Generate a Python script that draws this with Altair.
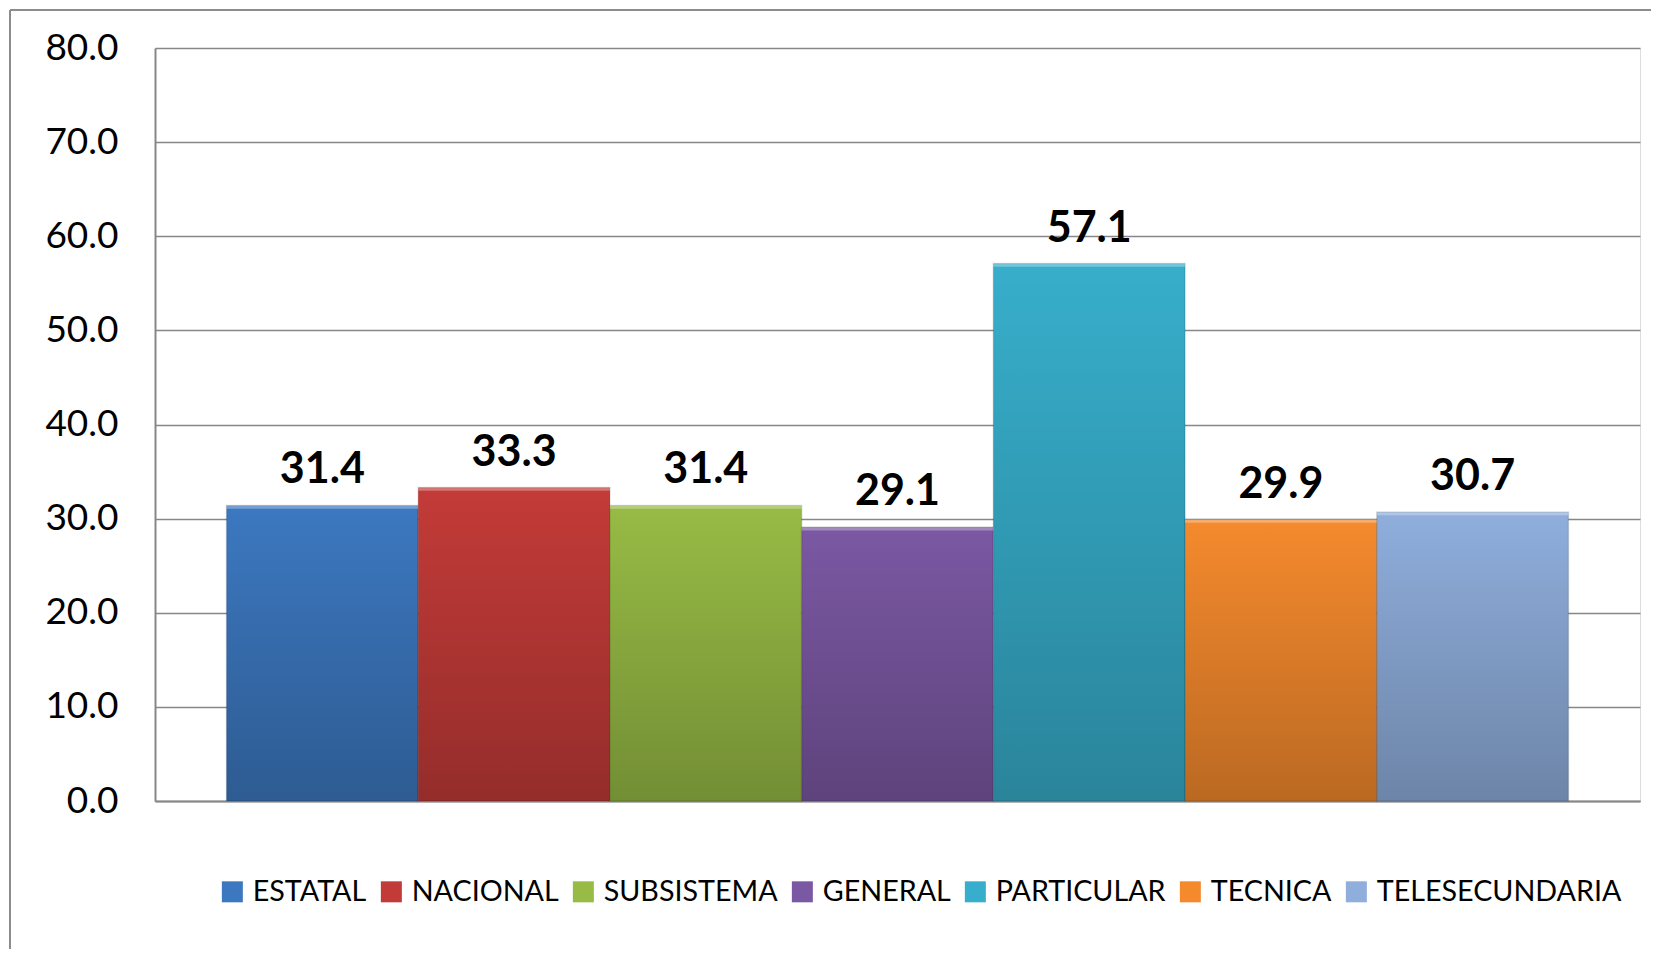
import altair as alt
import pandas as pd

categories = ["ESTATAL", "NACIONAL", "SUBSISTEMA", "GENERAL", "PARTICULAR", "TECNICA", "TELESECUNDARIA"]
values = [31.4, 33.3, 31.4, 29.1, 57.1, 29.9, 30.7]
colors = ["#3C78C0", "#C33B38", "#97BB45", "#7B58A3", "#37AECB", "#F58A2D", "#8FAEDC"]
y_ticks = [0, 10, 20, 30, 40, 50, 60, 70, 80]

df = pd.DataFrame({"Categoria": categories, "Valor": values})

W, H = 1485, 753
FONT = "Lato"

x_enc = alt.X("Categoria:N", sort=categories,
              scale=alt.Scale(paddingInner=0, paddingOuter=0.373),
              axis=alt.Axis(title=None, labels=False, ticks=False, domain=True,
                            domainColor="#878787", domainWidth=2, grid=False))
y_enc = alt.Y("Valor:Q", scale=alt.Scale(domain=[0, 80], nice=False),
              axis=alt.Axis(title=None, values=y_ticks, format=".1f", ticks=False,
                            domain=True, domainColor="#878787", domainWidth=2,
                            grid=True, gridColor="#878787", gridWidth=1.6,
                            labelFont=FONT, labelFontSize=37, labelColor="#000000",
                            labelPadding=37))

base = alt.Chart(df)

bars = base.mark_bar(stroke="#000000", strokeOpacity=0.12, strokeWidth=1.5).encode(
    x=x_enc, y=y_enc,
    color=alt.Color("Categoria:N", sort=categories,
                    scale=alt.Scale(domain=categories, range=colors),
                    legend=alt.Legend(title=None, orient="none", direction="horizontal",
                                      columns=7, legendX=63, legendY=829,
                                      symbolType="square", symbolSize=441,
                                      symbolStrokeWidth=0,
                                      labelFont=FONT, labelFontSize=28.7,
                                      labelColor="#000000", labelOffset=6,
                                      columnPadding=10, labelLimit=400)),
)

shade = base.mark_bar(
    color=alt.LinearGradient(
        gradient="linear", x1=0, y1=0, x2=0, y2=1,
        stops=[alt.GradientStop(offset=0, color="rgba(0,0,0,0.0)"),
               alt.GradientStop(offset=1, color="rgba(0,0,0,0.24)")])
).encode(x=x_enc, y=y_enc)

highlight = base.transform_calculate(
    top_edge="datum.Valor - 0.35"
).mark_bar(color="#ffffff", opacity=0.3).encode(
    x=x_enc, y=y_enc, y2="top_edge:Q")

labels = base.mark_text(font=FONT, fontSize=43, fontWeight="bold", color="#000000",
                        baseline="alphabetic", dy=-22).encode(
    x=x_enc, y=y_enc, text=alt.Text("Valor:Q", format=".1f"))

frame_left = alt.Chart(df).mark_rule(color="#8C8C8C", strokeWidth=2).encode(
    x=alt.value(-145), y=alt.value(-38), y2=alt.value(H + 170))
frame_top = alt.Chart(df).mark_rule(color="#8C8C8C", strokeWidth=2).encode(
    x=alt.value(-145), x2=alt.value(W + 20), y=alt.value(-38))

chart = alt.layer(bars, shade, highlight, labels, frame_left, frame_top).properties(
    width=W, height=H,
    autosize=alt.AutoSizeParams(type="none"),
    padding={"left": 147, "top": 40, "right": 11, "bottom": 148},
).configure_view(stroke=None).configure(background="#ffffff")

chart.save("out.html", embed_options={"renderer": "svg", "actions": False})
